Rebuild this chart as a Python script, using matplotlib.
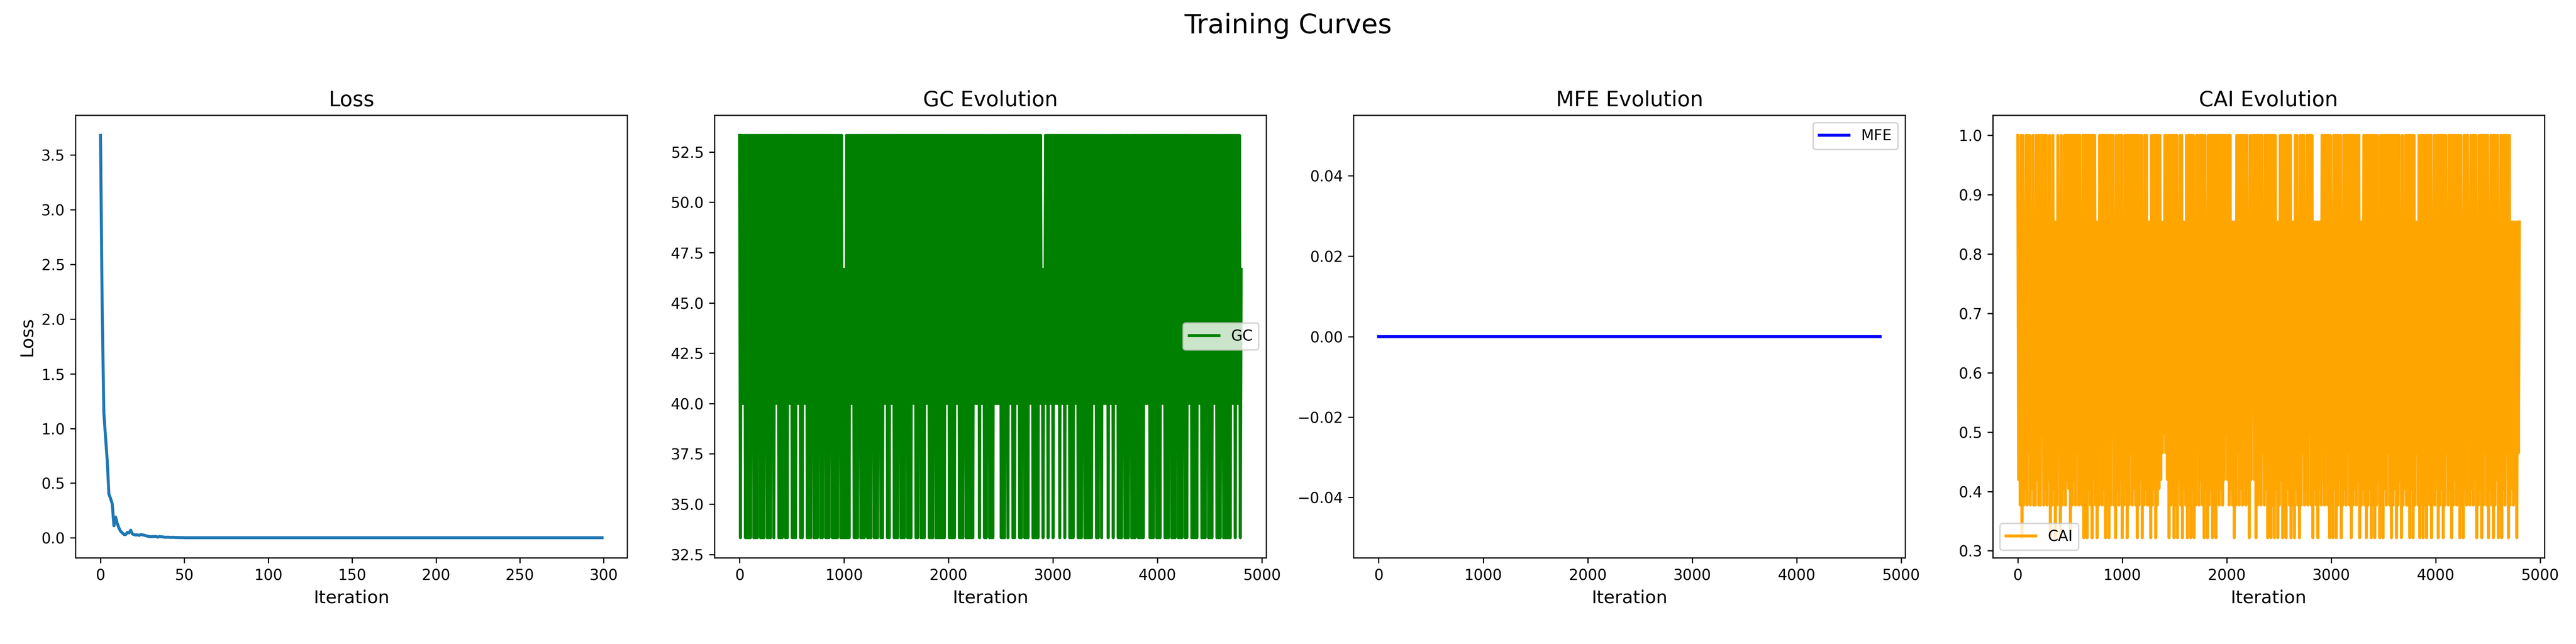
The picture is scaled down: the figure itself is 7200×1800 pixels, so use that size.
import matplotlib
matplotlib.use("Agg")
import matplotlib.pyplot as plt
import numpy as np

# ---- loss curve, one value per iteration ----
LOSS_HEAD = [
    3.68, 2.10, 1.14, 0.92, 0.71, 0.40, 0.36, 0.31, 0.11, 0.19,
    0.13, 0.09, 0.06, 0.045, 0.03, 0.03, 0.05, 0.045, 0.07, 0.035,
    0.03, 0.025, 0.028, 0.022, 0.03, 0.027, 0.024, 0.02, 0.015, 0.012,
    0.01, 0.012, 0.011, 0.013, 0.006, 0.012, 0.01, 0.009, 0.006, 0.005,
    0.006, 0.005, 0.004, 0.005, 0.004, 0.003, 0.003, 0.002, 0.002, 0.002,
]
LOSS_TAIL = [0.001] * 250          # flat part, iterations 50..299
LOSS = LOSS_HEAD + LOSS_TAIL

SAMPLE_STEP = 8

# GC content only takes four values; trace holds the level index per sample
GC_LEVELS = {"0": 33.33, "1": 40.0, "2": 46.67, "3": 53.33}
GC_TRACE = (
    "303131303030303130303031303030313030303130313130303031303031"
    "313030303131303031313030303130303031303031303030313030303031"
    "303020203030313130303031303030313030303130303031303031313030"
    "313130303031303030313030303131303031303030313130303031303030"
    "303030313130303030313130303031303030303031313130313130303130"
    "303031313131303030313031313030313130303130303031313030303031"
    "312021313031313031313130313130313130303031313030303130303030"
    "303131303031303131313031313031313030303130303031303030313030"
    "303031313130303031303030313130303031303030313030303130303131"
    "303030303131303030313030303131303030313030303030313130313130"
    "2"
)

# CAI levels seen in the plot; trace holds one level key per sample
CAI_LEVELS = {
    "0": 0.322, "1": 0.377, "2": 0.405, "3": 0.42, "4": 0.465,
    "5": 0.497, "6": 0.535, "8": 0.854, "9": 1.0,
}
CAI_TRACE = (
    "938190918291949182918193919195919291839081928081948091829193"
    "929091939194919281909190929190939180819491929091909195918092"
    "919390819290919491929190919390819291818091929091929384859493"
    "909192909190839190828190919092908194919391909280919290919092"
    "919291939593919281808194919291939192809396939091929194819290"
    "919091909280819390919092919081809291809194918291959190828180"
    "828193919491909180929091939081929194919091929193908182919091"
    "929091909193809190929194919091929091938091829191909290918481"
    "909190919092919083919290919290919481929091939192909180929195"
    "819291939081929091949190829190919390819092919490918281838084"
    "8"
)

MFE_VALUE = 0.0   # MFE stays flat at zero for the whole run

gc = np.array([GC_LEVELS[c] for c in GC_TRACE])
cai = np.array([CAI_LEVELS[c] for c in CAI_TRACE])
gc_steps = np.arange(len(gc)) * SAMPLE_STEP
cai_steps = np.arange(len(cai)) * SAMPLE_STEP
mfe = np.full(len(gc), MFE_VALUE)

fig, axes = plt.subplots(1, 4, figsize=(24, 6))

ax = axes[0]
ax.plot(np.arange(len(LOSS)), LOSS, linewidth=2)
ax.set_title("Loss", fontsize=14)
ax.set_xlabel("Iteration", fontsize=12)
ax.set_ylabel("Loss", fontsize=12)

ax = axes[1]
ax.plot(gc_steps, gc, color="green", linewidth=2, label="GC")
ax.set_title("GC Evolution", fontsize=14)
ax.set_xlabel("Iteration", fontsize=12)
ax.legend(loc="center right")

ax = axes[2]
ax.plot(gc_steps, mfe, color="blue", linewidth=2, label="MFE")
ax.set_title("MFE Evolution", fontsize=14)
ax.set_xlabel("Iteration", fontsize=12)
ax.legend(loc="upper right")

ax = axes[3]
ax.plot(cai_steps, cai, color="orange", linewidth=2, label="CAI")
ax.set_title("CAI Evolution", fontsize=14)
ax.set_xlabel("Iteration", fontsize=12)
ax.legend(loc="lower left")

fig.suptitle("Training Curves", fontsize=18)
fig.tight_layout(rect=[0, 0.03, 1, 0.95])
fig.savefig("out.png", dpi=300)
plt.close(fig)
